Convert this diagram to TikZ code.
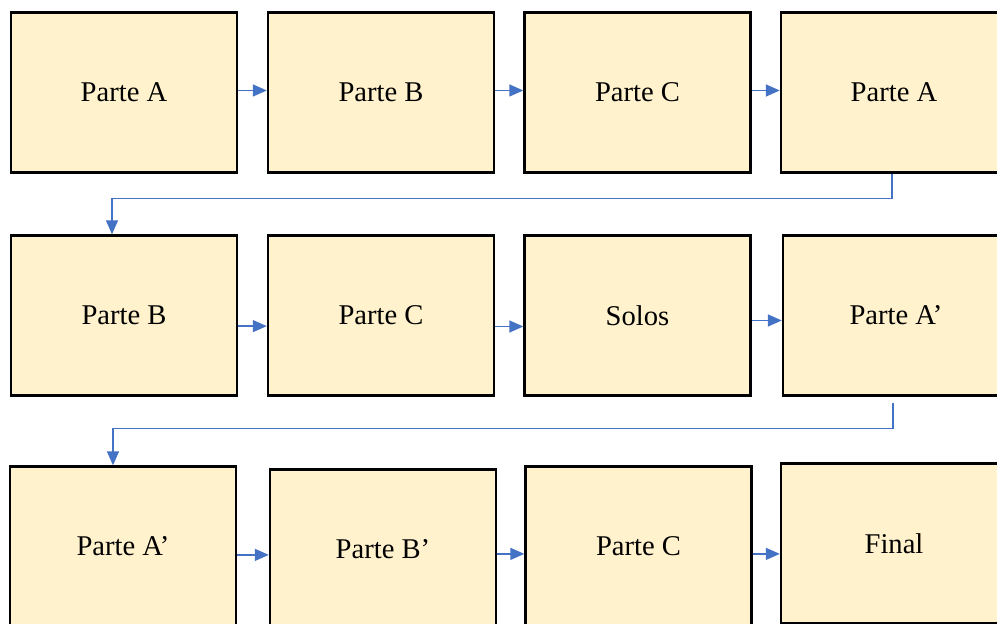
\documentclass[tikz,border=0pt]{standalone}
\usepackage{fontspec}
\setmainfont{Liberation Serif}
\usetikzlibrary{arrows.meta,calc}
\definecolor{boxfill}{HTML}{FFF2CC}
\definecolor{arrblue}{HTML}{4472C4}

\begin{document}
\begin{tikzpicture}[x=0.5pt,y=-0.5pt,font=\fontsize{14.3}{17}\selectfont,
  box/.style={draw,line width=1.2pt,fill=boxfill,inner sep=0pt,
    minimum width=113pt,minimum height=80pt},
  arr/.style={-{Triangle[length=7pt,width=6pt]},draw=arrblue,line width=0.75pt}]
  \clip (0,0) rectangle (997,624);
  % First row of parts.
  \node[box] (a1) at (124,92.5) {Parte A};
  \node[box] (a2) at (381,92.5) {Parte B};
  \node[box] (a3) at (637.5,92.5) {Parte C};
  \node[box] (a4) at (894,92.5) {Parte A};
  % Second row.
  \node[box] (b1) at (124,315.5) {Parte B};
  \node[box] (b2) at (381,315.5) {Parte C};
  \node[box] (b3) at (637.5,315.5) {Solos};
  \node[box] (b4) at (896,315.5) {Parte A’};
  % Third row, running off the page.
  \node[box] (c1) at (123,546.5) {Parte A’};
  \node[box] (c2) at (383,549.5) {Parte B’};
  \node[box] (c3) at (638.5,546.5) {Parte C};
  \node[box] (c4) at (894,543.5) {Final};
  % Arrows inside each row.
  \draw[arr] ([yshift=1pt]a1.east) -- ([yshift=1pt]a1.east -| a2.west);
  \draw[arr] ([yshift=1pt]a2.east) -- ([yshift=1pt]a2.east -| a3.west);
  \draw[arr] ([yshift=1pt]a3.east) -- ([yshift=1pt]a3.east -| a4.west);
  \draw[arr] ([yshift=-5.3pt]b1.east) -- ([yshift=-5.3pt]b1.east -| b2.west);
  \draw[arr] ([yshift=-5.5pt]b2.east) -- ([yshift=-5.5pt]b2.east -| b3.west);
  \draw[arr] ([yshift=-2.5pt]b3.east) -- ([yshift=-2.5pt]b3.east -| b4.west);
  \draw[arr] ([yshift=-4.2pt]c1.east) -- ([yshift=-4.2pt]c1.east -| c2.west);
  \draw[arr] ([yshift=-2.2pt]c2.east) -- ([yshift=-2.2pt]c2.east -| c3.west);
  \draw[arr] ([yshift=-3.7pt]c3.east) -- ([yshift=-3.7pt]c3.east -| c4.west);
  % Wrap from the end of one row to the start of the next.
  \draw[arr] ([xshift=-1pt]a4.south) -- ++(0,25) -| ([xshift=-6pt]b1.north);
  \draw[arr] ([xshift=-1.5pt,yshift=-3pt]b4.south) -- ++(0,26) -| ([xshift=-5pt]c1.north);
\end{tikzpicture}
\end{document}
